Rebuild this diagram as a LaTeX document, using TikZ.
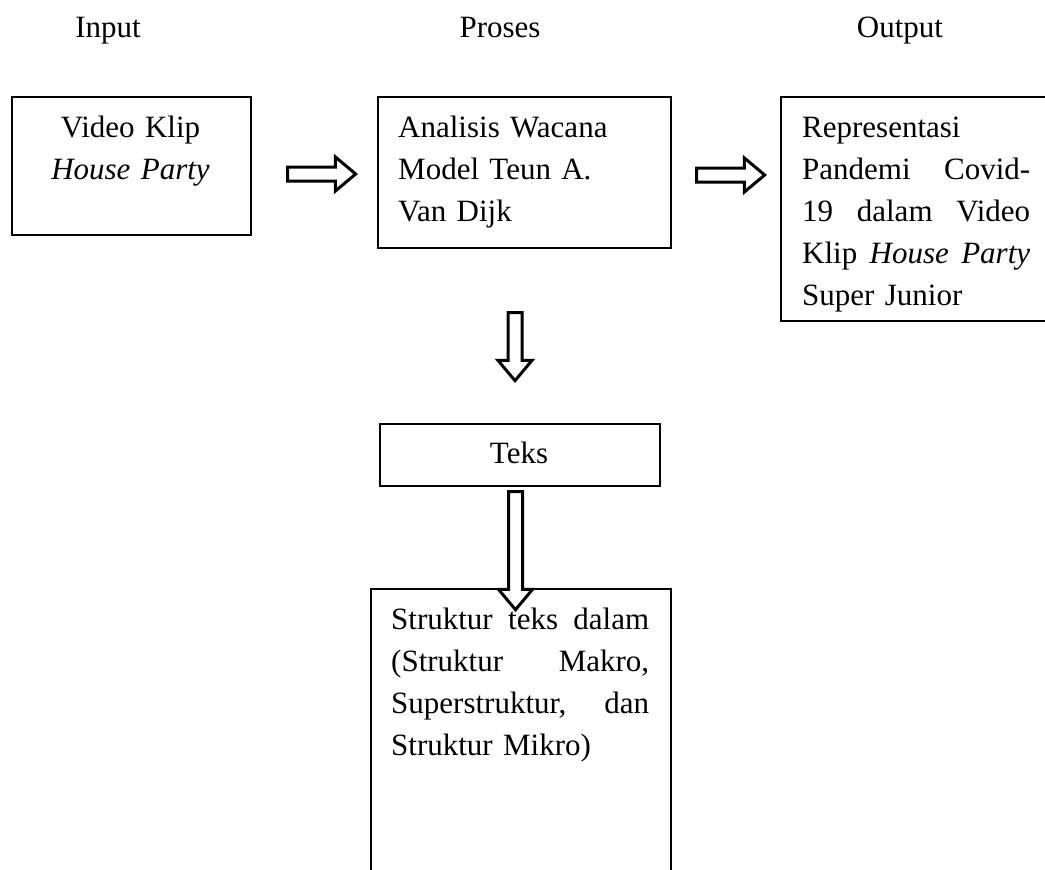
\documentclass[tikz,border=0pt]{standalone}
\usepackage{fontspec}
\setmainfont{Liberation Serif}
\usetikzlibrary{shapes.arrows}

\begin{document}
\begin{tikzpicture}[
        x=1pt,
        y=-1pt,
        font=\fontsize{31}{42}\selectfont,
        box/.style={draw, line width=1.6pt, anchor=north west, inner sep=0pt},
        boxtext/.style={anchor=base west, inner sep=0pt, align=left},
        heading/.style={anchor=base, inner sep=0pt},
        hollow/.style={single arrow, draw, fill=white, line width=3pt, inner sep=0pt,
            text height=11pt, text depth=0pt, minimum width=31pt,
            single arrow head extend=10pt, single arrow tip angle=80}]

    \useasboundingbox (0,0) rectangle (1045,870);

    \node [heading]  (input)  at (108,37) {Input};
    \node [heading]  (proses) at (500,37) {Proses};
    \node [heading]  (output) at (900,37) {Output};

    \node [box, minimum width=239, minimum height=138]  (video)    at (11,96)   {};
    \node [box, minimum width=293, minimum height=151]  (analisis) at (377,96)  {};
    \node [box, minimum width=280, minimum height=224]  (hasil)    at (780,96)  {};
    \node [box, minimum width=280, minimum height=62]   (teks)     at (379,423) {};
    \node [box, minimum width=300, minimum height=300]  (struktur) at (370,588) {};

    \node [boxtext, anchor=base, align=center, text width=220] (videotext) at (130.5,137)
        {Video Klip\\\textit{House Party}};
    \node [boxtext, text width=250] (analisistext) at (398,137)
        {Analisis Wacana\\Model Teun A.\\Van Dijk};
    \node [boxtext, text width=228] (hasiltext) at (802,137)
        {Representasi\\
         Pandemi\hfill Covid-\\
         19\hfill dalam\hfill Video\\
         Klip\hfill\textit{House}\hfill\textit{Party}\\
         Super Junior};
    \node [heading] (tekstext) at (519,463) {Teks};
    \node [boxtext, text width=258] (strukturtext) at (391,629)
        {Struktur\hfill teks\hfill dalam\\
         (Struktur\hfill Makro,\\
         Superstruktur,\hfill dan\\
         Struktur Mikro)};

    \node [hollow, minimum height=68]              (toanalisis) at (317.5,174) {};
    \node [hollow, minimum height=68]              (tohasil)    at (726.5,175) {};
    \node [hollow, minimum height=68, rotate=-90]  (toteks)     at (515,342.5) {};
    \node [hollow, minimum height=118, rotate=-90] (tostruktur) at (515.5,546.5) {};
\end{tikzpicture}
\end{document}
